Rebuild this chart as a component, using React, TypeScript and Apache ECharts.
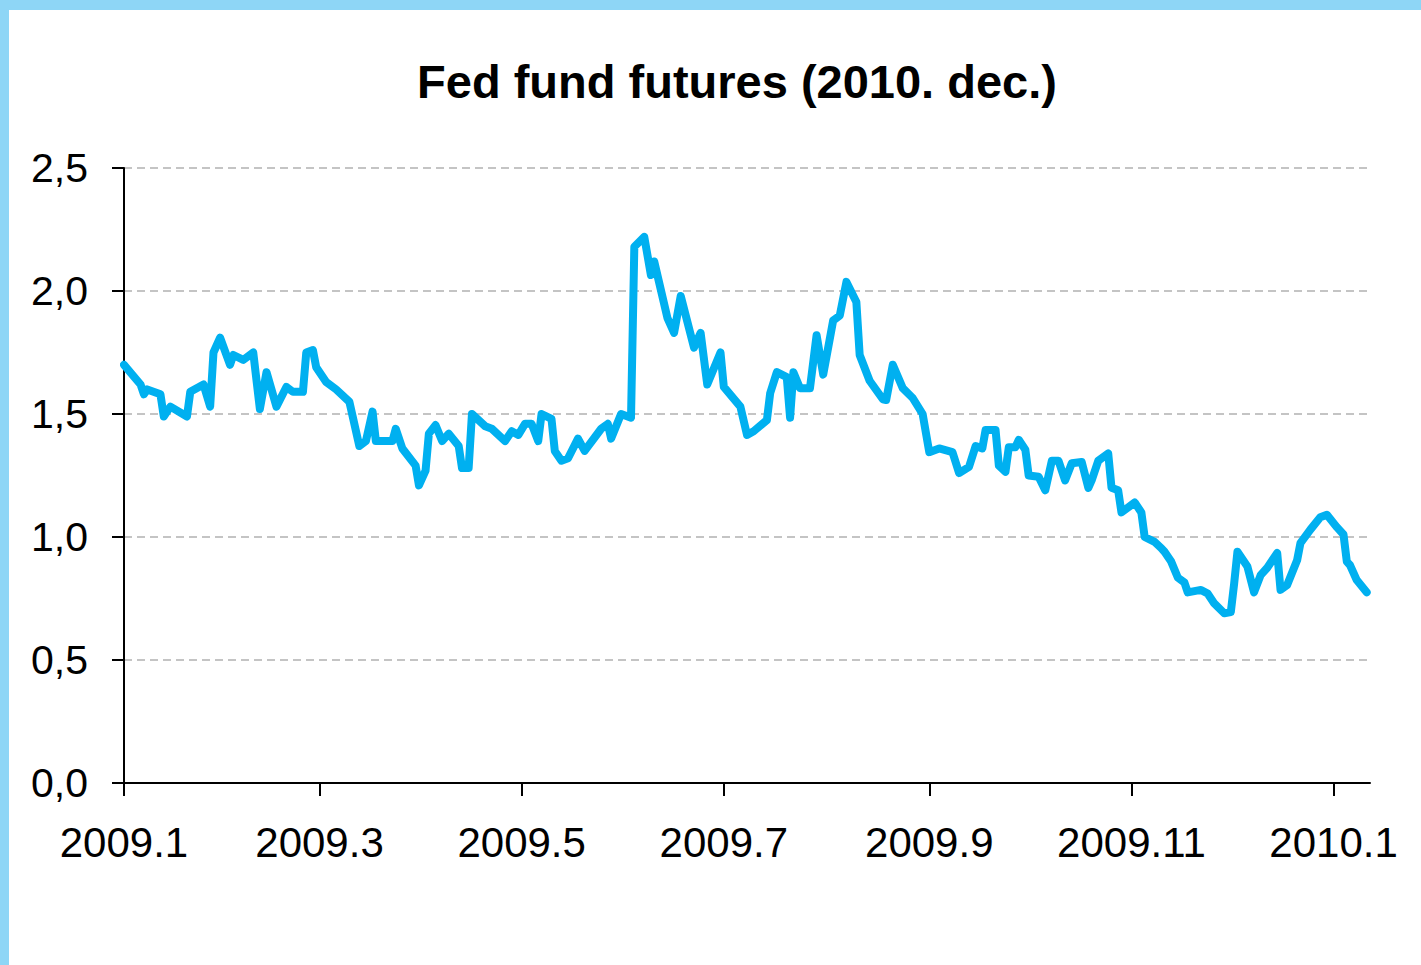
import React, { useEffect, useRef } from "react";
import * as echarts from "echarts";

// Day offsets counted from 2009-01-01 and the futures rate read at those days
const sampleDays = [
  0, 5, 6, 7, 11, 12, 14, 19, 20, 24, 26, 27, 29, 32, 33, 36, 39, 41, 43, 46,
  49, 51, 54, 55, 57, 58, 61, 64, 68, 71, 73, 75, 76, 77, 81, 82, 84, 88, 89, 91,
  92, 94, 96, 98, 101, 102, 104, 105, 109, 111, 115, 117, 119, 121, 123, 125, 126, 129, 130, 132,
  134, 137, 139, 144, 146, 147, 150, 153, 154, 157, 159, 160, 164, 166, 168, 172, 174, 176, 180, 181,
  186, 188, 190, 194, 195, 197, 200, 201, 202, 204, 207, 209, 211, 214, 216, 218, 221, 222, 225, 229,
  230, 232, 235, 238, 241, 243, 246, 250, 252, 255, 257, 259, 260, 263, 264, 266, 267, 269, 270, 272,
  273, 276, 278, 280, 282, 284, 286, 289, 291, 292, 294, 297, 298, 300, 301, 305, 307, 308, 311, 313,
  314, 316, 318, 320, 321, 325, 327, 329, 332, 334, 335, 336, 339, 341, 343, 345, 348, 349, 351, 354,
  355, 358, 361, 363, 366, 368, 369, 370, 372, 375,
];
const futuresValues = [
  1.70, 1.62, 1.58, 1.60, 1.58, 1.49, 1.53, 1.49, 1.59, 1.62, 1.53, 1.75, 1.81, 1.70, 1.74, 1.72, 1.75, 1.52, 1.67, 1.53,
  1.61, 1.59, 1.59, 1.75, 1.76, 1.69, 1.63, 1.60, 1.55, 1.37, 1.39, 1.51, 1.39, 1.39, 1.39, 1.44, 1.36, 1.29, 1.21, 1.27,
  1.42, 1.455, 1.39, 1.42, 1.37, 1.28, 1.28, 1.50, 1.45, 1.44, 1.39, 1.43, 1.415, 1.46, 1.46, 1.39, 1.50, 1.48, 1.35, 1.31,
  1.32, 1.40, 1.35, 1.44, 1.46, 1.40, 1.50, 1.485, 2.18, 2.22, 2.065, 2.12, 1.89, 1.83, 1.98, 1.77, 1.83, 1.62, 1.75, 1.61,
  1.53, 1.415, 1.43, 1.475, 1.585, 1.67, 1.65, 1.485, 1.67, 1.605, 1.605, 1.82, 1.66, 1.88, 1.90, 2.037, 1.955, 1.74, 1.635, 1.56,
  1.557, 1.70, 1.605, 1.565, 1.50, 1.345, 1.36, 1.345, 1.26, 1.285, 1.37, 1.36, 1.435, 1.435, 1.29, 1.265, 1.365, 1.365, 1.395, 1.355,
  1.25, 1.245, 1.19, 1.31, 1.31, 1.23, 1.30, 1.305, 1.20, 1.23, 1.31, 1.34, 1.20, 1.19, 1.10, 1.14, 1.10, 1.00, 0.98, 0.955,
  0.94, 0.90, 0.835, 0.815, 0.775, 0.785, 0.77, 0.73, 0.69, 0.695, 0.81, 0.94, 0.88, 0.775, 0.845, 0.875, 0.935, 0.785, 0.805, 0.905,
  0.975, 1.03, 1.08, 1.09, 1.04, 1.01, 0.90, 0.885, 0.825, 0.775,
];

// Month ticks (day offsets from 2009-01-01) and their labels
const tickDays = [0, 59, 120, 181, 243, 304, 365];
const tickLabels = ["2009.1", "2009.3", "2009.5", "2009.7", "2009.9", "2009.11", "2010.1"];

const chartTitle = "Fed fund futures (2010. dec.)";

export default function App() {
  const ref = useRef<HTMLDivElement>(null);

  useEffect(() => {
    if (!ref.current) return;
    const chart = echarts.init(ref.current, null, { renderer: "svg" });
    const seriesData = sampleDays.map((d, i) => [d, futuresValues[i]]);
    const font = "'Liberation Sans', Arial, sans-serif";

    chart.setOption({
      animation: false,
      backgroundColor: "#ffffff",
      graphic: [
        { type: "rect", left: 0, top: 0, shape: { width: 1421, height: 10 }, style: { fill: "#8ED6F6" }, z: -10 },
        { type: "rect", left: 0, top: 0, shape: { width: 9, height: 965 }, style: { fill: "#8ED6F6" }, z: -10 },
      ],
      title: {
        text: chartTitle,
        left: 732,
        top: 53,
        textAlign: "center",
        textStyle: {
          fontFamily: font,
          fontSize: 47,
          fontWeight: "bold",
          color: "#000000",
        },
      },
      grid: { left: 124, right: 51, top: 168, bottom: 182 },
      xAxis: {
        type: "value",
        min: 0,
        max: 376,
        axisLine: { show: true, onZero: false, lineStyle: { color: "#000000", width: 2 } },
        axisTick: {
          show: true,
          length: 13,
          customValues: tickDays,
          lineStyle: { color: "#000000", width: 2 },
        },
        axisLabel: {
          customValues: tickDays,
          margin: 38,
          fontFamily: font,
          fontSize: 42,
          color: "#000000",
          formatter: (v: number) => {
            const i = tickDays.indexOf(Math.round(v));
            return i >= 0 ? tickLabels[i] : "";
          },
        },
        splitLine: { show: false },
      },
      yAxis: {
        type: "value",
        min: 0,
        max: 2.5,
        interval: 0.5,
        axisLine: { show: true, lineStyle: { color: "#000000", width: 2 } },
        axisTick: { show: true, length: 12, lineStyle: { color: "#000000", width: 2 } },
        axisLabel: {
          margin: 36,
          fontFamily: font,
          fontSize: 41,
          color: "#000000",
          formatter: (v: number) => v.toFixed(1).replace(".", ","),
        },
        splitLine: {
          show: true,
          lineStyle: { color: "#c4c4c4", width: 2, type: [8, 5] },
        },
      },
      series: [
        {
          type: "line",
          data: seriesData,
          showSymbol: false,
          symbol: "none",
          lineStyle: { color: "#00B0F0", width: 8, join: "round", cap: "round" },
          itemStyle: { color: "#00B0F0" },
        },
      ],
    });

    return () => chart.dispose();
  }, []);

  return (
    <div
      ref={ref}
      style={{ position: "fixed", left: 0, top: 0, width: 1421, height: 965 }}
    />
  );
}
